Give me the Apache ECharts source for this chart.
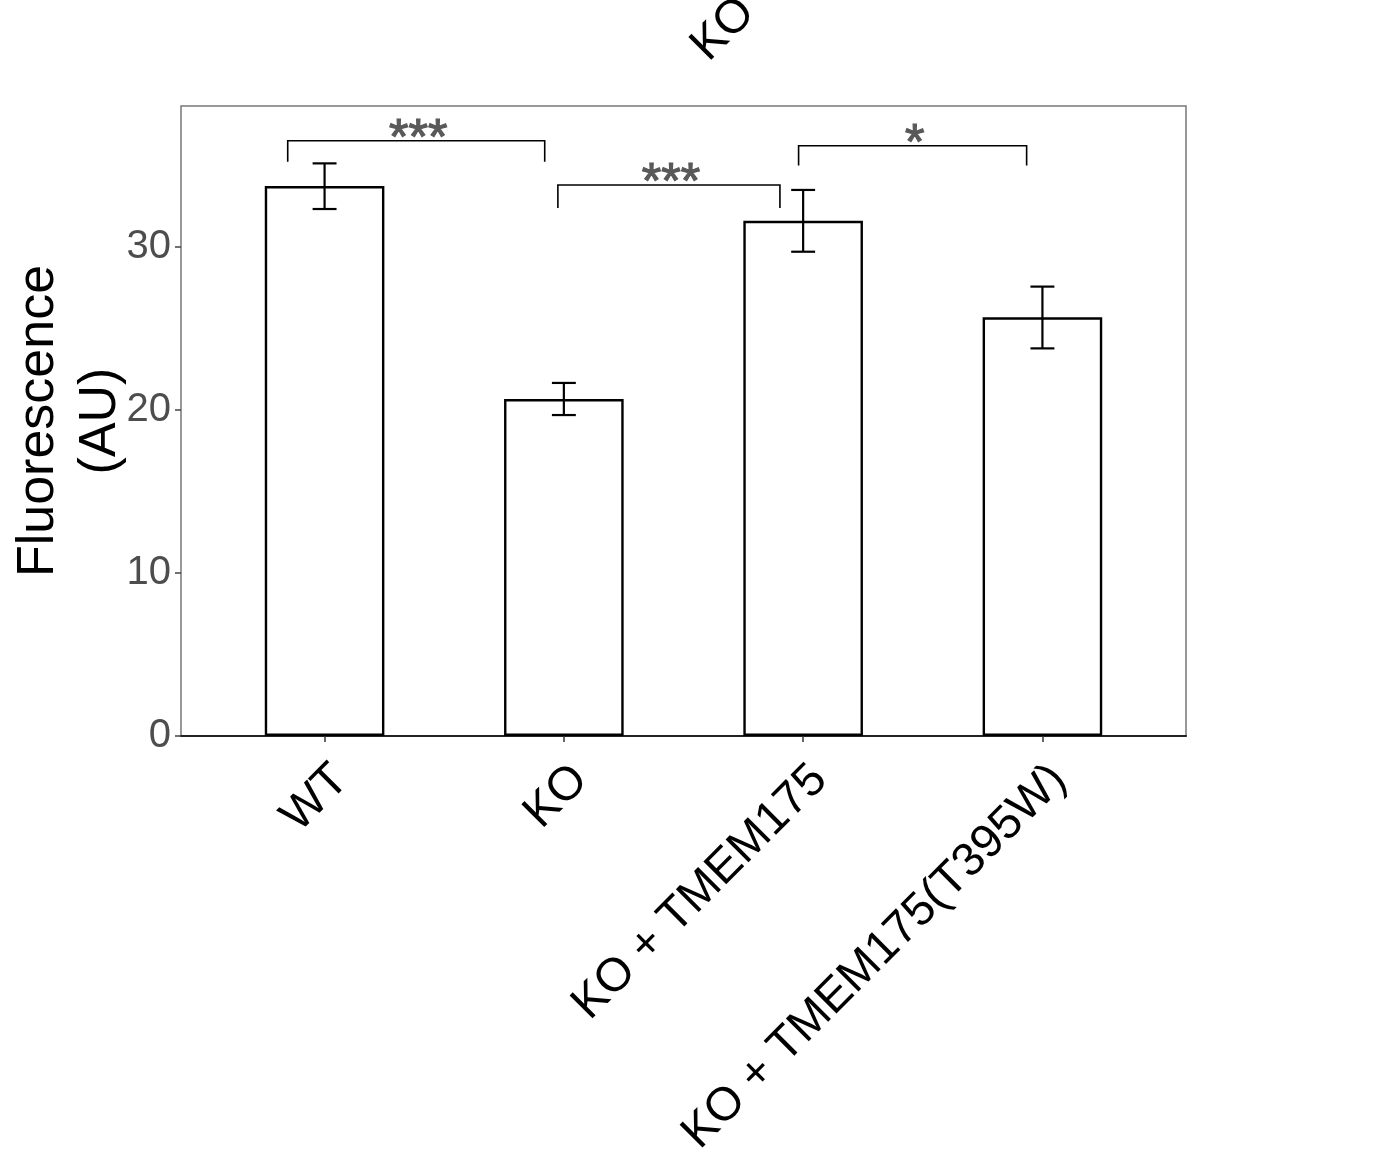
<!DOCTYPE html>
<html>
<head>
<meta charset="utf-8">
<script src="https://cdn.jsdelivr.net/npm/echarts@6/dist/echarts.min.js"></script>
<style>
  html, body { margin: 0; padding: 0; background: #fff; }
  #main { width: 1388px; height: 1157px; }
</style>
</head>
<body>
<div id="main"></div>
<script>
// groups and values
var categories = ['WT', 'KO', 'KO + TMEM175', 'KO + TMEM175(T395W)'];
var means   = [33.74, 20.67, 31.61, 25.69];
var errLow  = [32.33, 19.69, 29.71, 23.78];
var errHigh = [35.13, 21.66, 33.50, 27.57];
var yTicks  = [0, 10, 20, 30];

// significance brackets (x from, x to, bar height, tip end, label)
var sigFrom  = [0.846, 1.975, 2.981];
var sigTo    = [1.920, 2.903, 3.934];
var sigY     = [36.52, 33.80, 36.21];
var sigTip   = [35.23, 32.40, 35.00];
var sigLabel = ['***', '***', '*'];

var FONT = "'Liberation Sans', Arial, Helvetica, sans-serif";

var chart = echarts.init(document.getElementById('main'));

var barData = means.map(function (v, i) { return [i + 1, v]; });
var errData = means.map(function (v, i) { return [i + 1, errLow[i], errHigh[i]]; });
var sigData = sigLabel.map(function (s, i) { return [sigFrom[i], sigTo[i], sigY[i], sigTip[i], i]; });

function renderErr(params, api) {
    var x = api.value(0);
    var top = api.coord([x, api.value(2)]);
    var bot = api.coord([x, api.value(1)]);
    var hw = (api.coord([x + 0.05, 0])[0] - api.coord([x - 0.05, 0])[0]) / 2;
    var st = { stroke: '#000', lineWidth: 2.2 };
    return {
        type: 'group',
        children: [
            { type: 'line', shape: { x1: top[0], y1: top[1], x2: bot[0], y2: bot[1] }, style: st },
            { type: 'line', shape: { x1: top[0] - hw, y1: top[1], x2: top[0] + hw, y2: top[1] }, style: st },
            { type: 'line', shape: { x1: bot[0] - hw, y1: bot[1], x2: bot[0] + hw, y2: bot[1] }, style: st }
        ]
    };
}

function renderSig(params, api) {
    var a = api.coord([api.value(0), api.value(3)]);
    var b = api.coord([api.value(0), api.value(2)]);
    var c = api.coord([api.value(1), api.value(2)]);
    var d = api.coord([api.value(1), api.value(3)]);
    var lbl = sigLabel[api.value(4)];
    return {
        type: 'group',
        children: [
            { type: 'polyline', shape: { points: [a, b, c, d] },
              style: { stroke: '#000', lineWidth: 1.6, fill: null } },
            { type: 'text', x: (b[0] + c[0]) / 2 + 2, y: b[1] - 1,
              style: { text: lbl, fill: '#595959', stroke: '#595959', lineWidth: 1.2,
                       fontSize: 50, fontFamily: FONT,
                       align: 'center', verticalAlign: 'middle' } }
        ]
    };
}

var option = {
    backgroundColor: '#fff',
    animation: false,
    grid: {
        left: 181, right: 202, top: 106, bottom: 421,
        containLabel: false, outerBoundsMode: 'none',
        show: true, borderColor: '#777', borderWidth: 1.5, backgroundColor: '#fff'
    },
    xAxis: {
        type: 'value', min: 0.4, max: 4.6,
        splitLine: { show: false },
        axisLine: { show: true, lineStyle: { color: '#222', width: 2 } },
        axisTick: { show: true, customValues: [1, 2, 3, 4], length: 6, lineStyle: { color: '#333', width: 1.5 } },
        axisLabel: {
            customValues: [1, 2, 3, 4],
            formatter: function (v) { return categories[Math.round(v) - 1]; },
            rotate: 45, color: '#000', fontSize: 47, fontFamily: FONT,
            margin: 20, align: 'right', verticalAlign: 'top'
        }
    },
    yAxis: {
        type: 'value', min: 0, max: 38.65,
        splitLine: { show: false },
        axisLine: { show: false },
        axisTick: { show: true, customValues: yTicks, length: 6, lineStyle: { color: '#444', width: 1.5 } },
        axisLabel: { customValues: yTicks, color: '#4d4d4d', fontSize: 40, fontFamily: FONT, margin: 10 },
        name: 'Fluorescence\n(AU)',
        nameLocation: 'middle', nameRotate: 90, nameGap: 49, nameMoveOverlap: false,
        nameTextStyle: { color: '#000', fontSize: 52, fontFamily: FONT, lineHeight: 62 }
    },
    graphic: [{
        type: 'text', x: 716, y: 70, rotation: Math.PI / 4,
        style: { text: 'KO', fill: '#000', fontSize: 47, fontFamily: FONT,
                 align: 'left', verticalAlign: 'bottom' }
    }],
    series: [
        {
            type: 'bar', data: barData, barWidth: 119.6,
            itemStyle: { color: '#fff', borderColor: '#000', borderWidth: 2.4 }
        },
        { type: 'custom', data: errData, renderItem: renderErr, z: 5 },
        { type: 'custom', data: sigData, renderItem: renderSig, z: 6, clip: false }
    ]
};

chart.setOption(option);
</script>
</body>
</html>
